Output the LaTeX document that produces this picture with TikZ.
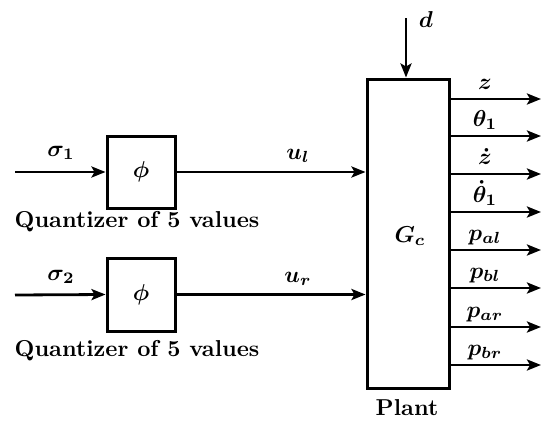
\documentclass[tikz,border=0pt]{standalone}
\usetikzlibrary{arrows.meta}
\begin{document}
\begin{tikzpicture}[x=1pt,y=-1pt,
  txt/.style={font=\bfseries\boldmath,scale=2.3,inner sep=0pt},
  blk/.style={draw,line width=3pt,inner sep=0pt},
  sig/.style={line width=2.8pt,-{Stealth[length=14pt,width=11pt,inset=3pt]}}]
\useasboundingbox (0,0) rectangle (541,423);
\node[blk,minimum width=68pt,minimum height=72pt] (q1) at (141,172) {};
\node[blk,minimum width=68pt,minimum height=73pt] (q2) at (141,294.5) {};
\node[txt] (p1) at (q1) {$\phi$};
\node[txt] (p2) at (q2) {$\phi$};
\node[blk,minimum width=82pt,minimum height=309pt] (pl) at (408,233.5) {};
\node[txt] (gc) at (410,236) {$G_c$};
\node[txt] (plant) at (407,408) {Plant};
\node[txt] (qt1) at (137,222) {Quantizer of 5 values};
\node[txt] (qt2) at (137,351) {Quantizer of 5 values};
\coordinate (s1) at (15,172);
\coordinate (s2) at (15,295);
\coordinate (dtop) at (406,18);
\draw[sig] (s1) -- (q1.west);
\draw[sig] (s2) -- (q2.west);
\node[txt] (ls1) at (61,153) {$\sigma_1$};
\node[txt] (ls2) at (61,277) {$\sigma_2$};
\draw[sig] (q1.east) -- (q1.east -| pl.west);
\node[txt] (lul) at (298,156) {$u_l$};
\draw[sig] (q2.east) -- (q2.east -| pl.west);
\node[txt] (lur) at (298,279) {$u_r$};
\draw[sig] (dtop) -- (dtop |- pl.north);
\node[txt] (ld) at (426,20) {$d$};
\foreach \y/\t/\n in {99/z/o1, 136/\theta_1/o2, 174/\dot z/o3, 212/\dot\theta_1/o4, 250/p_{al}/o5, 288/p_{bl}/o6, 327/p_{ar}/o7, 365/p_{br}/o8}{
  \coordinate (\n) at (541,\y);
  \draw[sig] (pl.east |- \n) -- (\n);
  \node[txt,anchor=base] at (485,\y-10) {$\t$};
}
\end{tikzpicture}
\end{document}
